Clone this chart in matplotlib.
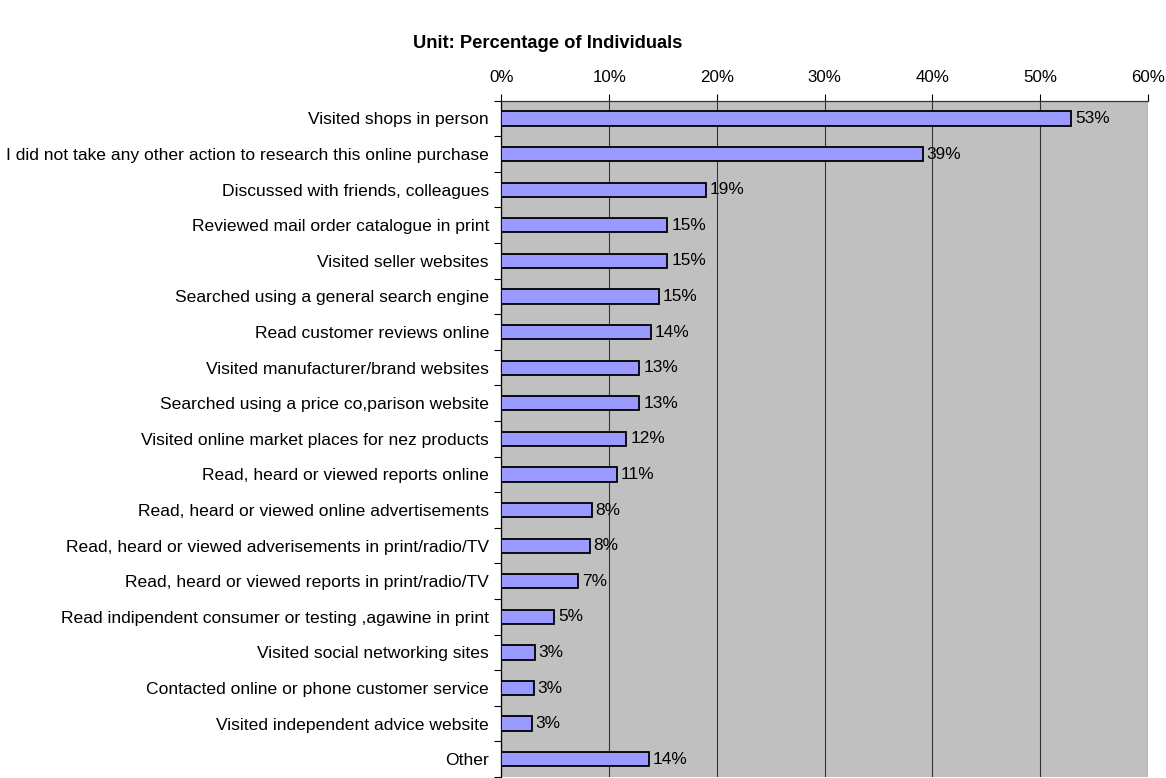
import matplotlib
matplotlib.use("Agg")
import matplotlib.pyplot as plt

categories = [
    "Visited shops in person",
    "I did not take any other action to research this online purchase",
    "Discussed with friends, colleagues",
    "Reviewed mail order catalogue in print",
    "Visited seller websites",
    "Searched using a general search engine",
    "Read customer reviews online",
    "Visited manufacturer/brand websites",
    "Searched using a price co,parison website",
    "Visited online market places for nez products",
    "Read, heard or viewed reports online",
    "Read, heard or viewed online advertisements",
    "Read, heard or viewed adverisements in print/radio/TV",
    "Read, heard or viewed reports in print/radio/TV",
    "Read indipendent consumer or testing ,agawine in print",
    "Visited social networking sites",
    "Contacted online or phone customer service",
    "Visited independent advice website",
    "Other",
]
values = [52.9, 39.1, 19.0, 15.4, 15.4, 14.6, 13.9, 12.8, 12.8, 11.6,
          10.7, 8.4, 8.2, 7.1, 4.9, 3.1, 3.0, 2.8, 13.7]
labels = ["53%", "39%", "19%", "15%", "15%", "15%", "14%", "13%", "13%", "12%",
          "11%", "8%", "8%", "7%", "5%", "3%", "3%", "3%", "14%"]
xticks = [0, 10, 20, 30, 40, 50, 60]
xticklabels = ["0%", "10%", "20%", "30%", "40%", "50%", "60%"]

plt.rcParams['font.family'] = ['Liberation Sans', 'DejaVu Sans']

W, H = 1166, 778
fig = plt.figure(figsize=(W / 100, H / 100), dpi=100)
left, right, top, bottom = 501.5, 1147.7, 100.7, 777.0
ax = fig.add_axes([left / W, (H - bottom) / H, (right - left) / W, (bottom - top) / H])

n = len(categories)
ypos = list(range(n))
ax.barh(ypos, values, height=0.4, color="#9999FF", edgecolor="black", linewidth=1.3, zorder=3)
for y, v, lab in zip(ypos, values, labels):
    ax.text(v + 0.35, y, lab, va="center", ha="left", fontsize=12.4, zorder=4)

ax.set_xlim(0, 60)
ax.set_ylim(n - 0.5, -0.5)
ax.set_facecolor("#C0C0C0")
ax.xaxis.tick_top()
ax.set_xticks(xticks)
ax.set_xticklabels(xticklabels, fontsize=12.2)
ax.set_yticks(ypos)
ax.set_yticklabels(categories, fontsize=12.6)
ax.set_yticks([i - 0.5 for i in range(n + 1)], minor=True)
ax.tick_params(axis="y", which="major", length=0, pad=9)
ax.tick_params(axis="y", which="minor", length=5, width=0.8, direction="out")
ax.tick_params(axis="x", length=5, width=0.8, direction="out", pad=6)
ax.grid(axis="x", color="#333333", linewidth=0.8, zorder=1)
for s in ["right", "bottom"]:
    ax.spines[s].set_visible(False)
ax.spines["left"].set_linewidth(0.9)
ax.spines["top"].set_linewidth(0.9)
ax.spines["top"].set_color("#333333")

fig.text(547.5 / W, 1 - 42 / H, "Unit: Percentage of Individuals", ha="center", va="center_baseline",
         fontsize=13.2, fontweight="bold")

fig.savefig("out.png", dpi=100)
